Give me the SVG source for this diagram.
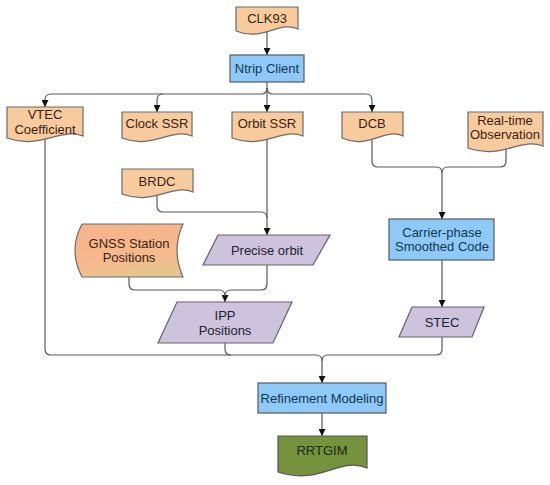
<svg xmlns="http://www.w3.org/2000/svg" width="550" height="485" viewBox="0 0 550 485">
<defs>
<style>
.doc{fill:#F8CB9F;stroke:#6E6A66;stroke-width:1.2}
.proc{fill:#8FC9F7;stroke:#555A60;stroke-width:1.2}
.para{fill:#CDC3DC;stroke:#66606E;stroke-width:1.2}
.green{fill:#76923C;stroke:#555;stroke-width:1.2}
.t{font-family:"Liberation Sans",Arial,sans-serif;font-size:13px;text-anchor:middle}
.tb{fill:#3A1E10}
.tp{fill:#0E3A52}
.tv{fill:#222230}
.tg{fill:#1A2A0A}
.c{fill:none;stroke:#5A5A5A;stroke-width:1.2}
</style>
<marker id="ar" viewBox="0 0 10 10" refX="10" refY="5" markerWidth="7" markerHeight="7" markerUnits="userSpaceOnUse" orient="auto">
<path d="M0,0 L10,5 L0,10 Z" fill="#111"/>
</marker>
<linearGradient id="gn" x1="0" y1="0" x2="0.3" y2="1">
<stop offset="0" stop-color="#F6B28C"/>
<stop offset="0.75" stop-color="#F6BA8E"/>
<stop offset="1" stop-color="#E6C48E"/>
</linearGradient>
</defs>
<rect width="550" height="485" fill="#fff"/>

<g id="connectors">
<path class="c" d="M267,31 V55" marker-end="url(#ar)"/>
<path class="c" d="M267,82 V112" marker-end="url(#ar)"/>
<path class="c" d="M267,88 Q267,94 261,94 H51 Q45,94 45,100 V107" marker-end="url(#ar)"/>
<path class="c" d="M163,94 Q157,94 157,100 V112" marker-end="url(#ar)"/>
<path class="c" d="M267,88 Q267,94 273,94 H366 Q372,94 372,100 V112" marker-end="url(#ar)"/>
<path class="c" d="M267,137 V235" marker-end="url(#ar)"/>
<path class="c" d="M157,193 V206 Q157,212 163,212 H261 Q267,212 267,218"/>
<path class="c" d="M267,265 V284 Q267,290 261,290 H231 Q225,290 225,296 V302" marker-end="url(#ar)"/>
<path class="c" d="M129,277 V284 Q129,290 135,290 H219 Q225,290 225,296"/>
<path class="c" d="M45,138 V349 Q45,355 51,355 H316 Q322,355 322,361 V383" marker-end="url(#ar)"/>
<path class="c" d="M225,343 V349 Q225,355 231,355"/>
<path class="c" d="M442,337 V349 Q442,355 436,355 H328 Q322,355 322,361"/>
<path class="c" d="M372,138 V161 Q372,167 378,167 H436 Q442,167 442,173 V219" marker-end="url(#ar)"/>
<path class="c" d="M506,148 V161 Q506,167 500,167 H448 Q442,167 442,173"/>
<path class="c" d="M442,260 V307" marker-end="url(#ar)"/>
<path class="c" d="M322,413 V436" marker-end="url(#ar)"/>
</g>

<g id="clk93">
<path class="doc" d="M236,7 H298 V29 C279,20 264,42 236,31 Z"/>
<text class="t tb" x="267" y="22.5">CLK93</text>
</g>
<g id="ntrip">
<rect class="proc" x="230" y="55" width="74" height="27"/>
<text class="t tp" x="267" y="73">Ntrip Client</text>
</g>
<g id="vtec">
<path class="doc" d="M7,107 H83 V136 C60,127 41,150 7,138 Z"/>
<text class="t tb" x="45" y="118.5">VTEC</text>
<text class="t tb" x="45" y="133.5">Coefficient</text>
</g>
<g id="clock">
<path class="doc" d="M122,112 H192 V136 C171,127 153,150 122,138 Z"/>
<text class="t tb" x="157" y="127.5">Clock SSR</text>
</g>
<g id="orbit">
<path class="doc" d="M232,112 H303 V136 C282,127 264,150 232,138 Z"/>
<text class="t tb" x="267" y="127.5">Orbit SSR</text>
</g>
<g id="dcb">
<path class="doc" d="M342,112 H403 V136 C385,127 369,150 342,138 Z"/>
<text class="t tb" x="372" y="127.5">DCB</text>
</g>
<g id="realtime">
<path class="doc" d="M468,112 H543 V146 C520,137 502,160 468,148 Z"/>
<text class="t tb" x="505" y="124.5">Real-time</text>
<text class="t tb" x="505" y="138.5">Observation</text>
</g>
<g id="brdc">
<path class="doc" d="M122,169 H193 V192 C172,183 154,206 122,194 Z"/>
<text class="t tb" x="157" y="185.5">BRDC</text>
</g>
<g id="gnss">
<path d="M82,224 H183 Q171,250 183,277 H82 Q68,250 82,224 Z" fill="url(#gn)" stroke="#6E6A66" stroke-width="1.2"/>
<text class="t tb" x="129" y="247.5">GNSS Station</text>
<text class="t tb" x="129" y="261.5">Positions</text>
</g>
<g id="precise">
<path class="para" d="M218,235 H330 L313,265 H203 Z"/>
<text class="t tv" x="267" y="254.5">Precise orbit</text>
</g>
<g id="ipp">
<path class="para" d="M177,302 H292 L273,343 H158 Z"/>
<text class="t tv" x="225" y="319.5">IPP</text>
<text class="t tv" x="225" y="334.5">Positions</text>
</g>
<g id="carrier">
<rect class="proc" x="389" y="219" width="105" height="41"/>
<text class="t tp" x="442" y="236.5">Carrier-phase</text>
<text class="t tp" x="442" y="250.5">Smoothed Code</text>
</g>
<g id="stec">
<path class="para" d="M412,307 H484 L472,337 H399 Z"/>
<text class="t tv" x="442" y="326.5">STEC</text>
</g>
<g id="refinement">
<rect class="proc" x="258" y="383" width="128" height="30"/>
<text class="t tp" x="322" y="402.5">Refinement Modeling</text>
</g>
<g id="rrtgim">
<path class="green" d="M278,436 H367 V468 C340,456 320,486 278,472 Z"/>
<text class="t tg" x="322" y="454.5">RRTGIM</text>
</g>
</svg>
